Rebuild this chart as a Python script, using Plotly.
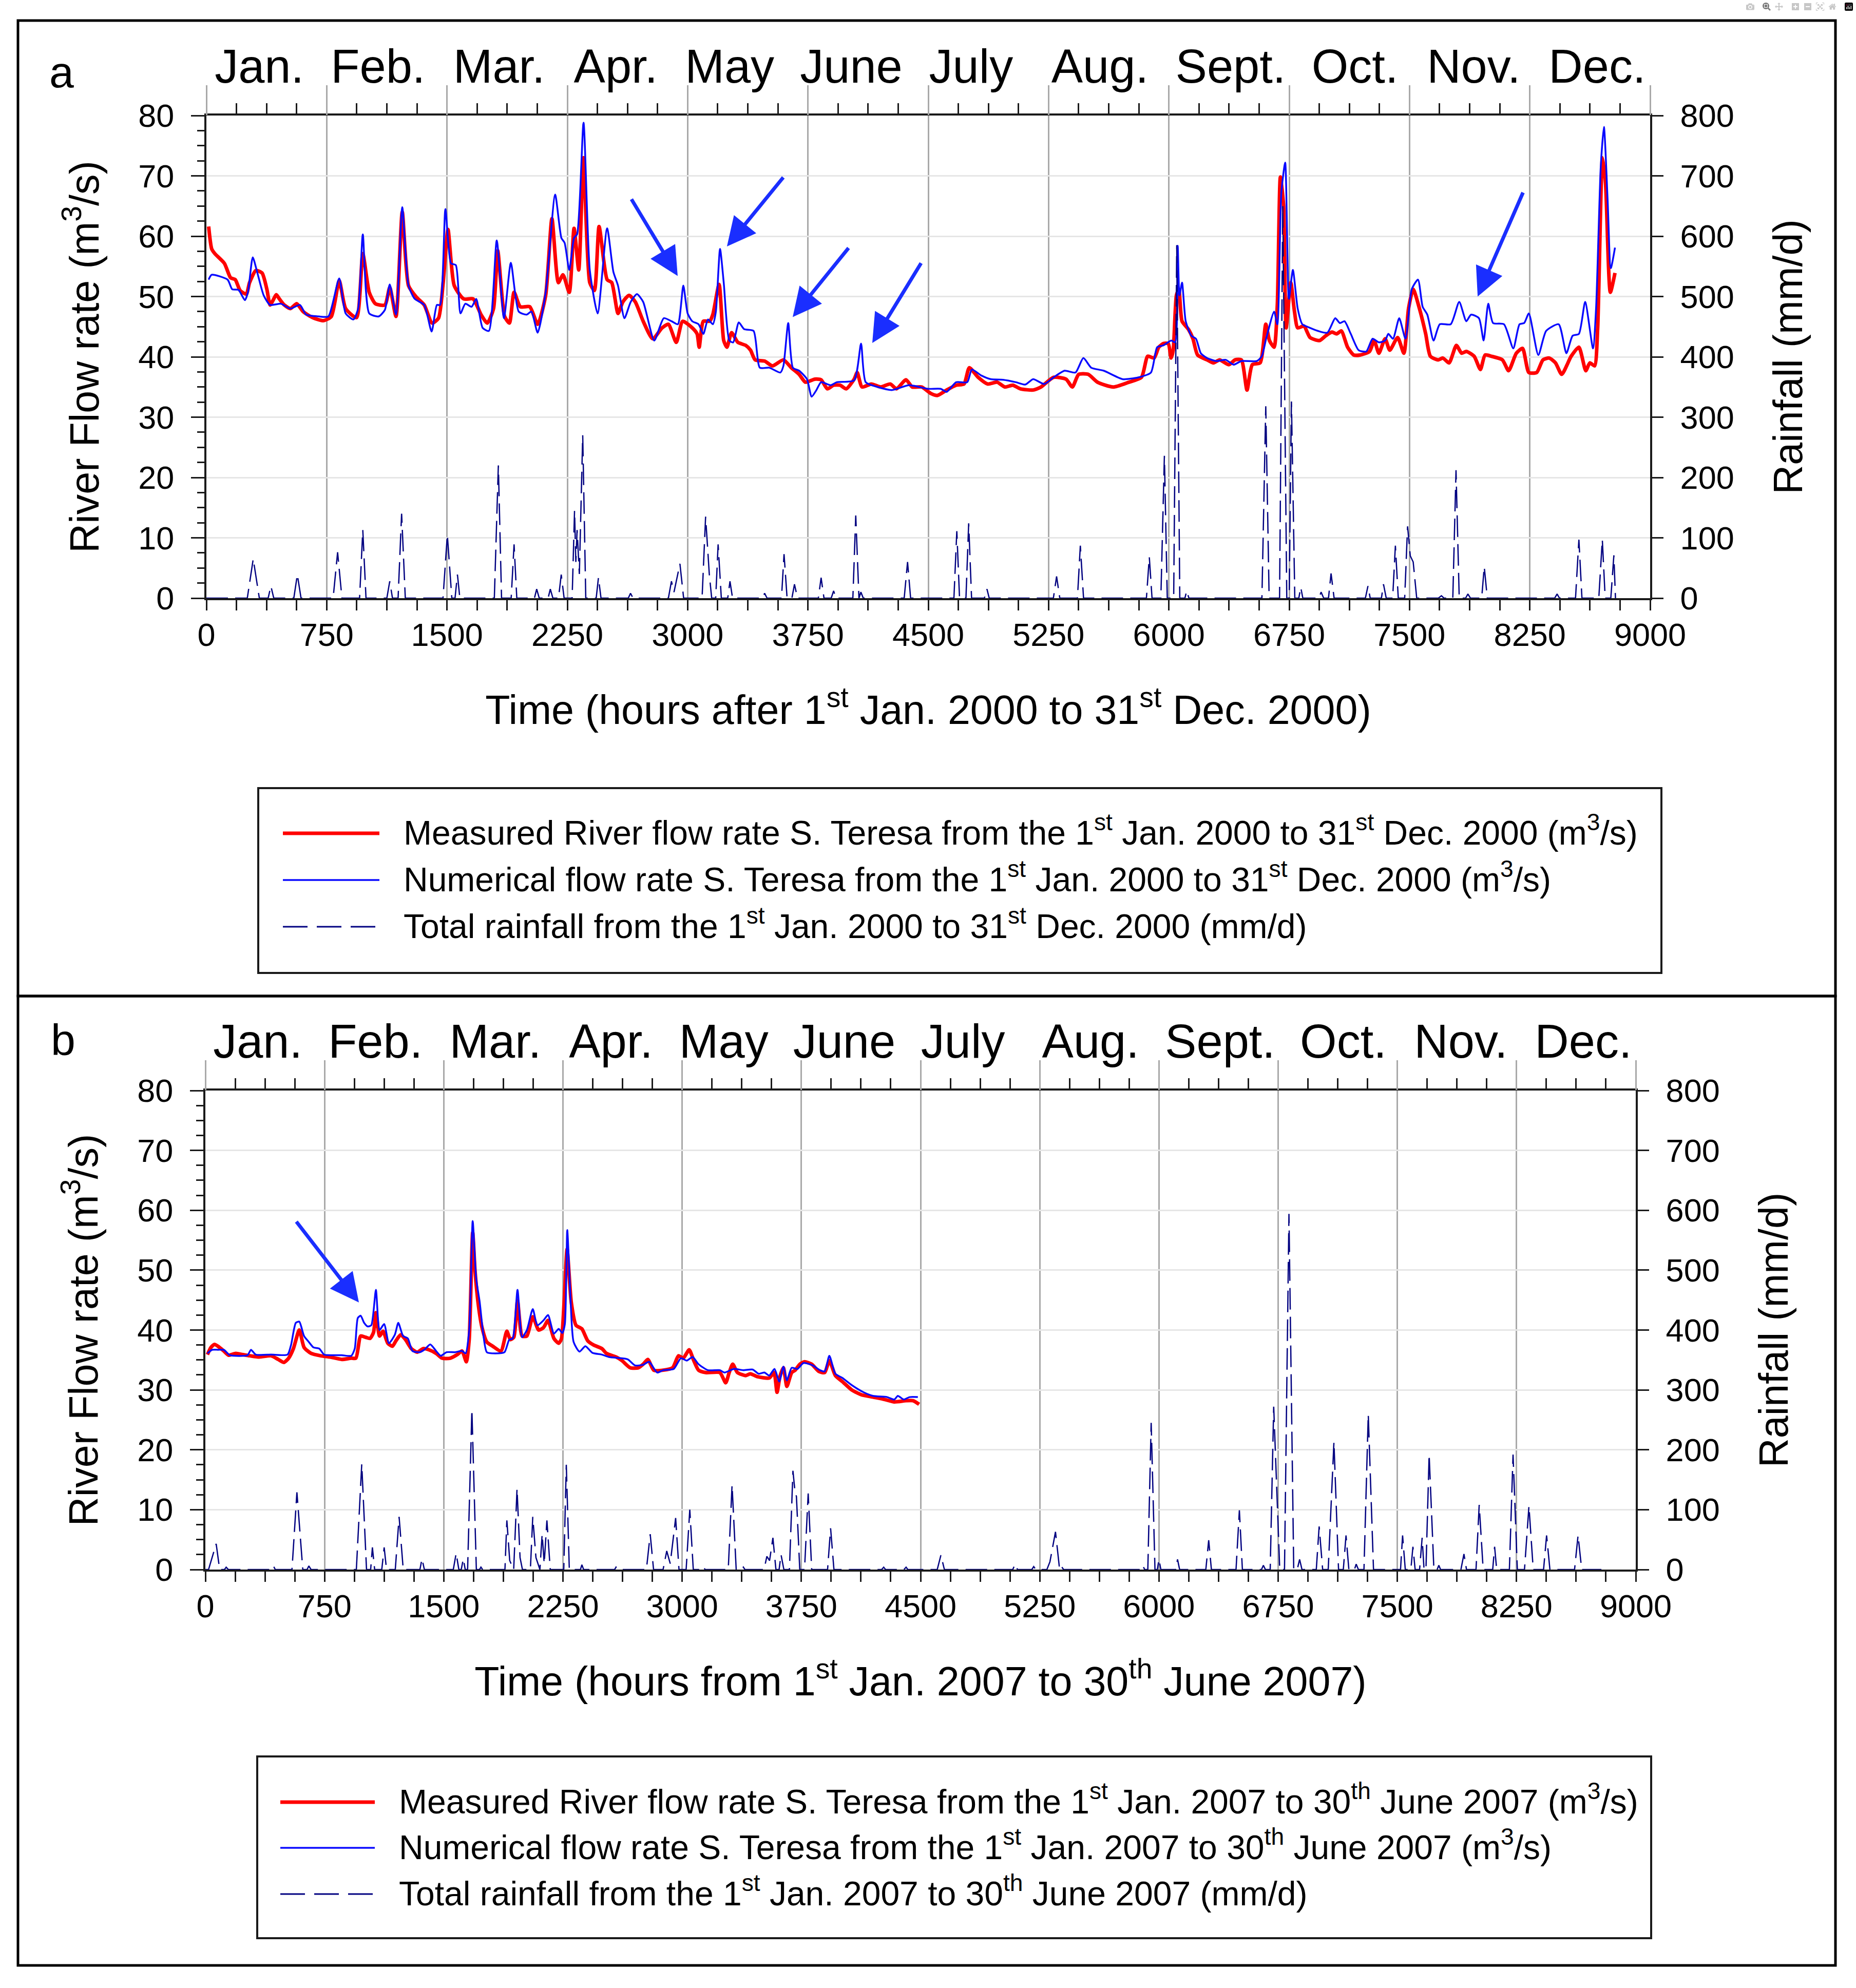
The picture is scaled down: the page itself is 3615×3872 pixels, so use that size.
import plotly.graph_objects as go

# ---------------------------------------------------------------- data ----
months = ["Jan.", "Feb.", "Mar.", "Apr.", "May", "June",
          "July", "Aug.", "Sept.", "Oct.", "Nov.", "Dec."]
month_label_hours = [330, 1070, 1825, 2552, 3262, 4020,
                     4767, 5570, 6385, 7160, 7900, 8670]

# Panel a : year 2000
hours_meas_2000 = [
    14, 33, 53, 112, 151, 180, 210, 249, 269, 308,
    347, 377, 397, 416, 436, 455, 485, 524, 563, 603,
    662, 730, 779, 828, 868, 936, 975, 1015, 1054, 1113,
    1143, 1182, 1221, 1260, 1309, 1358, 1407, 1447, 1476, 1506,
    1545, 1604, 1663, 1712, 1751, 1790, 1816, 1859, 1889, 1918,
    1957, 2016, 2065, 2115, 2154, 2194, 2223, 2262, 2292, 2321,
    2351, 2390, 2419, 2448, 2498, 2527, 2566, 2596, 2635, 2674,
    2723, 2782, 2841, 2880, 2929, 2969, 3029, 3059, 3072, 3098,
    3137, 3157, 3196, 3225, 3245, 3274, 3313, 3362, 3392, 3421,
    3480, 3529, 3597, 3646, 3695, 3734, 3793, 3832, 3871, 3910,
    3950, 3989, 4038, 4057, 4087, 4145, 4204, 4263, 4302, 4361,
    4400, 4459, 4518, 4557, 4615, 4674, 4723, 4756, 4811, 4870,
    4929, 4978, 5027, 5075, 5154, 5203, 5281, 5359, 5398, 5438,
    5497, 5555, 5653, 5751, 5829, 5868, 5908, 5937, 5966, 5996,
    6014, 6027, 6047, 6062, 6082, 6121, 6150, 6179, 6238, 6277,
    6316, 6374, 6413, 6452, 6487, 6520, 6569, 6604, 6627, 6656,
    6676, 6695, 6715, 6731, 6760, 6783, 6803, 6842, 6880, 6939,
    6978, 7017, 7046, 7075, 7114, 7153, 7192, 7251, 7280, 7309,
    7348, 7377, 7426, 7465, 7494, 7523, 7562, 7601, 7630, 7679,
    7708, 7747, 7792, 7825, 7854, 7903, 7942, 7971, 8010, 8079,
    8118, 8166, 8205, 8244, 8293, 8332, 8371, 8410, 8449, 8508,
    8556, 8599, 8624, 8654, 8673, 8703, 8722, 8752, 8781]
flow_meas_2000 = [
    61.6, 57.9, 57.1, 55.5, 53.1, 52.8, 51.0, 50.4, 52.3, 54.3,
    53.9, 51.2, 48.6, 49.4, 50.3, 49.6, 48.6, 48.0, 48.8, 47.5,
    46.5, 46.0, 46.7, 52.6, 48.0, 46.5, 57.1, 50.7, 48.8, 48.6,
    51.5, 46.7, 64.0, 51.8, 49.9, 48.6, 45.6, 46.4, 52.3, 61.1,
    51.8, 49.6, 49.6, 47.0, 45.6, 48.0, 57.6, 46.7, 45.6, 50.7,
    48.3, 48.3, 45.4, 50.2, 62.9, 52.3, 53.6, 50.7, 61.3, 54.4,
    73.0, 52.3, 51.0, 61.6, 52.8, 52.3, 47.2, 49.1, 50.2, 49.1,
    45.9, 43.0, 44.8, 45.4, 42.4, 45.9, 44.8, 43.8, 41.6, 45.9,
    45.9, 47.0, 52.0, 42.7, 41.6, 44.0, 42.4, 41.9, 41.1, 39.5,
    39.3, 38.5, 39.5, 38.2, 37.1, 35.8, 36.3, 36.2, 34.7, 35.3,
    35.3, 34.7, 36.3, 37.4, 35.0, 35.5, 35.0, 35.5, 34.7, 36.2,
    35.0, 35.0, 33.9, 33.6, 34.5, 35.3, 35.5, 38.2, 36.6, 35.5,
    35.8, 35.0, 35.3, 34.7, 34.5, 35.0, 36.6, 36.3, 35.0, 37.1,
    37.1, 35.8, 35.0, 35.8, 36.6, 40.1, 39.8, 41.6, 42.2, 42.2,
    39.8, 41.1, 50.2, 51.2, 45.9, 44.6, 43.0, 40.3, 39.5, 39.0,
    39.5, 38.7, 39.5, 39.5, 34.5, 38.7, 39.0, 45.4, 42.7, 41.6,
    48.6, 69.8, 65.1, 44.8, 52.3, 47.5, 44.8, 45.1, 43.2, 42.7,
    43.5, 44.1, 43.8, 44.3, 41.6, 40.3, 40.3, 40.9, 42.7, 40.6,
    43.0, 41.1, 43.2, 40.6, 48.0, 51.2, 48.0, 43.8, 40.1, 39.5,
    39.8, 39.0, 41.9, 40.6, 40.9, 40.1, 37.9, 40.3, 40.1, 39.5,
    37.7, 40.6, 41.4, 37.4, 37.4, 39.5, 39.8, 39.0, 37.1, 40.1,
    41.6, 37.7, 39.0, 38.5, 44.8, 73.0, 68.8, 50.7, 53.9]

hours_num_2000 = [
    14, 33, 132, 161, 200, 240, 259, 289, 318, 357,
    397, 465, 524, 583, 622, 701, 760, 828, 868, 917,
    946, 975, 1015, 1074, 1113, 1143, 1182, 1221, 1260, 1299,
    1358, 1404, 1437, 1457, 1490, 1525, 1555, 1584, 1614, 1653,
    1682, 1722, 1761, 1810, 1855, 1898, 1947, 1996, 2026, 2065,
    2115, 2174, 2213, 2233, 2262, 2292, 2311, 2351, 2390, 2439,
    2498, 2537, 2566, 2606, 2645, 2684, 2723, 2792, 2851, 2900,
    2939, 2973, 3000, 3029, 3068, 3098, 3127, 3157, 3176, 3202,
    3225, 3260, 3284, 3319, 3352, 3411, 3450, 3509, 3578, 3597,
    3627, 3656, 3695, 3744, 3773, 3803, 3832, 3891, 3930, 4038,
    4081, 4110, 4185, 4273, 4380, 4498, 4577, 4615, 4674, 4743,
    4772, 4831, 4890, 4968, 5046, 5105, 5154, 5223, 5281, 5350,
    5418, 5467, 5516, 5594, 5712, 5810, 5888, 5927, 5966, 6015,
    6039, 6055, 6066, 6082, 6105, 6140, 6169, 6199, 6238, 6296,
    6355, 6403, 6452, 6549, 6579, 6608, 6656, 6676, 6701, 6725,
    6748, 6773, 6803, 6832, 6880, 6929, 6988, 7037, 7066, 7095,
    7134, 7183, 7231, 7270, 7309, 7348, 7368, 7397, 7436, 7475,
    7514, 7553, 7582, 7611, 7650, 7689, 7757, 7810, 7854, 7884,
    7933, 7962, 7991, 8021, 8089, 8147, 8186, 8215, 8244, 8303,
    8352, 8430, 8478, 8517, 8556, 8595, 8644, 8663, 8692, 8712,
    8735, 8755, 8781]
flow_num_2000 = [
    52.8, 53.6, 52.8, 51.2, 51.1, 49.4, 50.7, 56.5, 53.9, 50.2,
    48.6, 48.8, 48.0, 48.6, 47.0, 46.7, 46.7, 53.0, 47.2, 46.2,
    48.0, 60.3, 47.2, 46.7, 47.8, 52.0, 47.0, 64.8, 51.8, 49.6,
    48.6, 44.2, 48.6, 48.6, 64.5, 55.5, 55.2, 47.2, 48.8, 48.3,
    49.6, 44.8, 44.3, 59.3, 46.4, 55.6, 47.5, 47.0, 47.5, 44.0,
    50.7, 66.9, 59.7, 58.9, 54.4, 59.7, 60.3, 78.8, 54.4, 47.2,
    61.3, 54.1, 51.8, 46.4, 49.1, 50.4, 49.1, 42.7, 46.4, 45.9,
    45.4, 51.8, 47.2, 45.9, 45.4, 43.8, 46.2, 45.4, 47.5, 57.9,
    52.3, 42.7, 42.4, 45.7, 44.6, 44.3, 38.2, 38.2, 37.4, 38.5,
    45.6, 38.2, 37.7, 36.3, 33.4, 34.5, 35.8, 35.3, 35.8, 36.1,
    42.2, 35.8, 35.0, 34.5, 35.3, 34.7, 34.7, 34.2, 35.8, 35.8,
    37.9, 36.9, 36.3, 36.2, 35.8, 35.4, 36.3, 35.5, 36.6, 37.7,
    37.4, 39.8, 38.2, 37.7, 36.3, 36.6, 37.4, 41.6, 41.9, 42.7,
    42.4, 58.4, 50.2, 52.3, 45.9, 43.5, 43.0, 40.6, 39.8, 39.3,
    39.5, 38.7, 39.3, 39.3, 40.1, 43.2, 47.5, 45.4, 67.2, 72.2,
    49.6, 54.4, 48.0, 45.4, 44.8, 44.3, 44.0, 46.4, 45.6, 45.9,
    43.8, 41.1, 40.9, 43.0, 42.4, 42.7, 43.8, 43.0, 46.4, 43.0,
    51.2, 52.8, 48.3, 47.0, 42.7, 45.4, 45.4, 49.1, 45.9, 47.0,
    46.4, 42.7, 48.8, 45.6, 45.4, 41.4, 45.4, 45.6, 47.2, 40.3,
    44.3, 45.4, 40.6, 43.5, 43.8, 49.1, 41.4, 48.0, 71.4, 78.1,
    66.1, 54.7, 58.1]

hours_rain_2000 = [
    0, 255, 292, 330, 385, 402, 420, 545, 567, 590,
    790, 818, 845, 955, 975, 995, 1125, 1143, 1160, 1195,
    1217, 1240, 1475, 1502, 1530, 1550, 1565, 1580, 1795, 1820,
    1840, 1900, 1918, 1935, 2045, 2059, 2075, 2130, 2144, 2160,
    2195, 2212, 2230, 2280, 2295, 2303, 2311, 2325, 2346, 2365,
    2430, 2444, 2460, 2630, 2644, 2660, 2880, 2899, 2915, 2952,
    2975, 3090, 3112, 3135, 3150, 3175, 3190, 3210, 3250, 3264,
    3280, 3465, 3480, 3495, 3585, 3601, 3620, 3650, 3666, 3685,
    3815, 3832, 3850, 3895, 3910, 3925, 4030, 4048, 4068, 4080,
    4095, 4350, 4371, 4390, 4660, 4678, 4695, 4735, 4752, 4770,
    4850, 4866, 4880, 5280, 5300, 5320, 5430, 5448, 5468, 5860,
    5878, 5895, 5950, 5972, 5990, 6030, 6049, 6068, 6100, 6111,
    6125, 6580, 6604, 6625, 6690, 6710, 6735, 6750, 6764, 6785,
    6810, 6822, 6835, 6935, 6949, 6965, 6995, 7011, 7030, 7225,
    7241, 7255, 7325, 7338, 7355, 7395, 7412, 7430, 7470, 7488,
    7505, 7523, 7545, 7680, 7699, 7715, 7770, 7790, 7810, 7850,
    7864, 7880, 7950, 7966, 7985, 8405, 8420, 8435, 8535, 8556,
    8575, 8680, 8702, 8720, 8755, 8774, 8784]
rain_2000 = [
    0, 0, 65, 0, 0, 20, 0, 0, 39, 0,
    0, 76, 0, 0, 113, 0, 0, 28, 0, 0,
    140, 0, 0, 105, 0, 0, 39, 0, 0, 220,
    0, 0, 89, 0, 0, 15, 0, 0, 15, 0,
    0, 39, 0, 0, 145, 60, 113, 40, 270, 0,
    0, 34, 0, 0, 8, 0, 0, 28, 10, 57,
    0, 0, 135, 40, 0, 0, 89, 0, 0, 28,
    0, 0, 8, 0, 0, 73, 0, 0, 23, 0,
    0, 34, 0, 0, 12, 0, 0, 137, 0, 10,
    0, 0, 60, 0, 0, 111, 0, 0, 124, 0,
    0, 15, 0, 0, 36, 0, 0, 87, 0, 0,
    68, 0, 0, 236, 0, 0, 585, 0, 0, 12,
    0, 0, 318, 0, 0, 650, 0, 0, 326, 0,
    0, 18, 0, 0, 10, 0, 0, 41, 0, 0,
    20, 0, 0, 23, 0, 0, 87, 0, 0, 119,
    70, 60, 0, 0, 4, 0, 0, 212, 0, 0,
    7, 0, 0, 52, 0, 0, 7, 0, 0, 97,
    0, 0, 97, 0, 0, 71, 0]

# Panel b : 1st Jan. - 30th June 2007 (rainfall for the whole year)
hours_meas_2007 = [
    13, 35, 57, 79, 116, 146, 191, 235, 280, 339,
    413, 458, 495, 524, 554, 591, 621, 665, 725, 784,
    858, 918, 947, 977, 1007, 1036, 1058, 1073, 1096, 1118,
    1148, 1177, 1199, 1229, 1259, 1296, 1333, 1370, 1407, 1452,
    1489, 1541, 1585, 1615, 1642, 1660, 1682, 1697, 1719, 1741,
    1771, 1808, 1860, 1897, 1919, 1941, 1964, 1993, 2023, 2060,
    2097, 2127, 2156, 2193, 2223, 2240, 2258, 2276, 2302, 2332,
    2369, 2406, 2443, 2495, 2524, 2584, 2621, 2673, 2725, 2755,
    2784, 2821, 2881, 2940, 2977, 3007, 3044, 3073, 3103, 3148,
    3237, 3274, 3296, 3318, 3348, 3400, 3429, 3474, 3548, 3578,
    3597, 3615, 3637, 3659, 3689, 3711, 3741, 3770, 3815, 3859,
    3897, 3926, 3964, 4008, 4067, 4127, 4201, 4275, 4335, 4409,
    4453, 4491]
flow_meas_2007 = [
    35.9, 37.1, 37.6, 37.3, 36.5, 35.8, 36.1, 35.9, 35.7, 35.5,
    35.7, 35.1, 34.6, 35.3, 36.9, 40.0, 37.1, 36.1, 35.7, 35.5,
    35.1, 35.3, 35.3, 39.0, 38.8, 38.6, 39.6, 42.9, 39.0, 39.8,
    37.8, 37.3, 38.2, 39.2, 38.4, 36.9, 36.3, 36.9, 36.7, 36.1,
    35.3, 35.3, 35.9, 36.5, 34.7, 38.4, 56.3, 49.8, 43.9, 40.4,
    38.0, 37.3, 36.5, 39.8, 38.4, 38.8, 44.9, 39.0, 39.0, 42.2,
    40.0, 40.4, 41.6, 38.6, 37.8, 38.5, 45.0, 53.5, 44.7, 40.8,
    40.2, 38.2, 37.5, 36.9, 36.1, 35.5, 34.9, 33.7, 33.7, 34.3,
    35.1, 33.3, 33.3, 33.7, 35.7, 35.3, 36.7, 34.9, 33.3, 32.9,
    32.9, 31.2, 32.9, 34.3, 32.9, 32.4, 32.7, 32.2, 32.0, 32.9,
    29.6, 32.2, 33.7, 30.6, 32.9, 33.3, 34.3, 34.7, 34.3, 33.1,
    32.9, 34.9, 32.4, 31.4, 30.0, 29.2, 28.8, 28.4, 28.0, 28.2,
    28.2, 27.6]

hours_num_2007 = [
    13, 42, 79, 116, 154, 265, 287, 317, 413, 517,
    539, 569, 591, 621, 651, 680, 717, 747, 799, 858,
    918, 940, 959, 977, 999, 1021, 1044, 1073, 1096, 1125,
    1155, 1192, 1214, 1244, 1274, 1303, 1348, 1377, 1415, 1452,
    1481, 1518, 1570, 1615, 1637, 1660, 1682, 1704, 1726, 1749,
    1771, 1823, 1882, 1912, 1934, 1964, 1993, 2023, 2060, 2089,
    2127, 2156, 2193, 2223, 2246, 2262, 2277, 2295, 2317, 2354,
    2391, 2435, 2495, 2539, 2613, 2658, 2703, 2755, 2792, 2843,
    2881, 2947, 2992, 3029, 3066, 3103, 3162, 3237, 3266, 3326,
    3385, 3444, 3481, 3518, 3548, 3581, 3611, 3637, 3659, 3689,
    3726, 3763, 3822, 3867, 3897, 3926, 3964, 4008, 4067, 4142,
    4201, 4290, 4335, 4357, 4394, 4431, 4483]
flow_num_2007 = [
    36.1, 36.7, 36.7, 36.7, 35.8, 35.8, 36.7, 35.9, 35.9, 35.9,
    37.5, 41.2, 41.4, 39.0, 38.0, 37.1, 36.9, 35.9, 35.8, 35.8,
    35.7, 36.9, 42.0, 42.4, 41.2, 40.6, 40.8, 46.7, 40.0, 41.0,
    37.8, 39.2, 41.2, 39.0, 38.6, 36.5, 36.3, 36.7, 37.6, 36.5,
    35.7, 36.3, 36.3, 36.5, 36.1, 40.0, 58.2, 48.6, 44.7, 39.2,
    36.3, 36.1, 36.3, 38.4, 38.6, 46.7, 38.8, 40.0, 43.5, 40.8,
    41.6, 42.5, 39.4, 40.2, 39.5, 41.0, 56.7, 46.7, 38.0, 36.4,
    37.3, 36.2, 35.9, 35.5, 35.3, 35.1, 34.1, 34.2, 34.7, 32.9,
    33.3, 33.5, 35.3, 34.9, 35.5, 34.3, 33.3, 33.3, 32.9, 33.5,
    33.3, 33.4, 32.7, 32.9, 32.4, 33.5, 31.4, 33.9, 31.6, 33.7,
    33.5, 34.5, 34.1, 33.3, 33.1, 35.7, 32.7, 32.0, 30.8, 29.6,
    29.0, 28.8, 28.4, 29.0, 28.4, 28.8, 28.8]

hours_rain_2007 = [
    0, 20, 68, 90, 120, 131, 145, 415, 428, 440,
    545, 576, 613, 640, 651, 665, 950, 984, 1014, 1040,
    1051, 1065, 1110, 1125, 1140, 1195, 1219, 1245, 1350, 1363,
    1378, 1560, 1578, 1595, 1610, 1623, 1635, 1650, 1677, 1705,
    1725, 1734, 1745, 1885, 1897, 1915, 1940, 1961, 1980, 1995,
    2045, 2060, 2080, 2105, 2119, 2132, 2149, 2170, 2255, 2271,
    2290, 2360, 2369, 2380, 2575, 2584, 2595, 2775, 2799, 2820,
    2880, 2903, 2925, 2959, 2980, 3025, 3048, 3070, 3125, 3133,
    3145, 3290, 3314, 3340, 3375, 3385, 3395, 3515, 3533, 3550,
    3571, 3590, 3610, 3622, 3640, 3675, 3697, 3710, 3719, 3740,
    3770, 3793, 3815, 3915, 3934, 3955, 4255, 4268, 4280, 4395,
    4409, 4420, 4605, 4628, 4650, 5080, 5095, 5110, 5200, 5212,
    5225, 5295, 5314, 5349, 5375, 5387, 5400, 5880, 5898, 5910,
    5930, 5951, 5975, 5990, 6000, 6012, 6105, 6117, 6130, 6295,
    6313, 6330, 6485, 6506, 6525, 6645, 6657, 6670, 6700, 6722,
    6760, 6790, 6818, 6848, 6870, 6885, 6900, 6990, 7008, 7030,
    7065, 7101, 7130, 7160, 7177, 7195, 7230, 7241, 7255, 7290,
    7317, 7350, 7520, 7533, 7550, 7585, 7598, 7612, 7640, 7656,
    7668, 7680, 7700, 7730, 7750, 7761, 7772, 7900, 7919, 7935,
    7995, 8015, 8040, 8100, 8112, 8125, 8205, 8228, 8255, 8300,
    8328, 8355, 8420, 8439, 8460, 8615, 8637, 8660, 8784]
rain_2007 = [
    0, 0, 43, 0, 0, 4, 0, 0, 6, 0,
    0, 129, 0, 0, 6, 0, 0, 176, 0, 0,
    37, 0, 0, 37, 0, 0, 88, 0, 0, 18,
    0, 0, 27, 0, 0, 18, 0, 0, 267, 0,
    0, 4, 0, 0, 82, 15, 0, 135, 20, 0,
    0, 88, 20, 0, 59, 10, 82, 0, 0, 175,
    0, 0, 8, 0, 0, 4, 0, 0, 59, 0,
    0, 31, 10, 86, 0, 0, 100, 0, 0, 4,
    0, 0, 141, 0, 0, 4, 0, 0, 22, 15,
    53, 0, 0, 25, 0, 0, 165, 130, 122, 0,
    0, 127, 0, 0, 69, 0, 0, 4, 0, 0,
    4, 0, 0, 24, 0, 0, 9, 0, 0, 5,
    0, 0, 13, 63, 0, 5, 0, 0, 7, 0,
    0, 245, 0, 0, 17, 0, 0, 17, 0, 0,
    49, 0, 0, 99, 0, 0, 7, 0, 0, 272,
    0, 0, 594, 0, 0, 17, 0, 0, 72, 0,
    0, 213, 0, 0, 57, 0, 0, 9, 0, 0,
    259, 0, 0, 57, 0, 0, 38, 0, 0, 53,
    0, 0, 192, 0, 0, 7, 0, 0, 26, 0,
    0, 108, 0, 0, 38, 0, 0, 192, 0, 0,
    106, 0, 0, 57, 0, 0, 57, 0, 0]

# arrows: (hour, flow) of the tip, pixel offset of the tail
arrows_2000 = [(2938, 53.4, -91, -151), (3245, 58.3, 111, -136),
               (3655, 46.6, 110, -136), (4151, 42.3, 96, -157),
               (7925, 50.0, 89, -204)]
arrows_2007 = [(966, 44.6, -123, -159)]

for a, b in [(hours_meas_2000, flow_meas_2000), (hours_num_2000, flow_num_2000),
             (hours_rain_2000, rain_2000), (hours_meas_2007, flow_meas_2007),
             (hours_num_2007, flow_num_2007), (hours_rain_2007, rain_2007)]:
    assert len(a) == len(b), (len(a), len(b))

# --------------------------------------------------------------- style ----
W, H = 3615, 3872
FONT = "Liberation Sans, Arial, sans-serif"
INK = "#1a1a1a"
RED = "#ff0000"
BLUE = "#0a0aff"
NAVY = "#000080"
ARROW = "#1a2eff"
VGRID = "#a9a9a9"
HGRID = "#e6e6e6"
RAIN_DASH = "42px,14px"


def fx(p):
    return p / W


def fy(p):
    return 1 - p / H


panels = [
    dict(box=(402, 3214, 225, 1165), ax=["x", "y", "y2", "x2", "x3"],
         meas=(hours_meas_2000, flow_meas_2000), num=(hours_num_2000, flow_num_2000),
         rain=(hours_rain_2000, rain_2000), arrows=arrows_2000,
         letter="a", letter_pos=(120, 140),
         xtitle="Time (hours after 1<sup>st</sup> Jan. 2000 to 31<sup>st</sup> Dec. 2000)",
         period="1<sup>st</sup> Jan. 2000 to 31<sup>st</sup> Dec. 2000",
         frame=(35, 3575, 40, 1940),
         legend_box=(503, 3236, 1535, 1895), legend_sample=(551, 739),
         legend_rows=(1623, 1714, 1805), legend_text_x=784),
    dict(box=(400, 3186, 2124, 3057), ax=["x4", "y3", "y4", "x5", "x6"],
         meas=(hours_meas_2007, flow_meas_2007), num=(hours_num_2007, flow_num_2007),
         rain=(hours_rain_2007, rain_2007), arrows=arrows_2007,
         letter="b", letter_pos=(123, 2025),
         xtitle="Time (hours from 1<sup>st</sup> Jan. 2007 to 30<sup>th</sup> June 2007)",
         period="1<sup>st</sup> Jan. 2007 to 30<sup>th</sup> June 2007",
         frame=(35, 3575, 1940, 3828),
         legend_box=(501, 3216, 3421, 3775), legend_sample=(546, 730),
         legend_rows=(3510, 3599, 3689), legend_text_x=775),
]

fig = go.Figure()
layout = dict(width=W, height=H,
              margin=dict(l=0, r=0, t=0, b=0, pad=0, autoexpand=False),
              paper_bgcolor="white", plot_bgcolor="white", showlegend=False,
              font=dict(family=FONT, color="#000"))
shapes, annotations = [], []

tickfont = dict(size=63, family=FONT, color="#000")
titlefont = dict(size=79, family=FONT, color="#000")

for p in panels:
    L, R, T, B = p["box"]
    xa, ya, ya2, xm, xg = p["ax"]
    xdom = [fx(L), fx(R)]
    ydom = [fy(B), fy(T)]
    key = lambda a: a[0] + "axis" + a[1:]

    layout[key(xa)] = dict(
        domain=xdom, anchor=ya, range=[0, 9000], tick0=0, dtick=750,
        ticks="outside", ticklen=20, tickwidth=3, tickcolor=INK,
        minor=dict(tick0=0, dtick=187.5, ticks="outside", ticklen=20, tickwidth=3,
                   tickcolor=INK, showgrid=False),
        showgrid=True, gridcolor=VGRID, gridwidth=2.5,
        showline=True, linecolor=INK, linewidth=4, mirror="ticks", zeroline=False,
        tickfont=tickfont, ticklabelstandoff=-7, automargin=False,
        title=dict(text=p["xtitle"], font=titlefont, standoff=86))
    # month names above the plot
    layout[key(xm)] = dict(
        overlaying=xa, anchor=ya, side="top", range=[0, 9000],
        tickmode="array", tickvals=month_label_hours, ticktext=months,
        ticks="", showgrid=False, showline=False, zeroline=False, automargin=False,
        tickfont=dict(size=92, family=FONT, color="#000"), ticklabelstandoff=45)
    # grey separators between month names
    layout[key(xg)] = dict(
        overlaying=xa, anchor=ya, side="top", range=[0, 9000], tick0=0, dtick=750,
        ticks="outside", ticklen=58, tickwidth=2.5, tickcolor=VGRID, automargin=False,
        showticklabels=False, showgrid=False, showline=False, zeroline=False)
    layout[key(ya)] = dict(
        domain=ydom, anchor=xa, range=[0, 80], tick0=0, dtick=10,
        ticks="outside", ticklen=26, tickwidth=3, tickcolor=INK,
        minor=dict(tick0=0, dtick=2.5, ticks="outside", ticklen=14, tickwidth=3,
                   tickcolor=INK, showgrid=False),
        showgrid=True, gridcolor=HGRID, gridwidth=2.5,
        showline=True, linecolor=INK, linewidth=4, zeroline=False,
        tickfont=tickfont, ticklabelstandoff=20, automargin=False,
        title=dict(text="River Flow rate (m<sup>3</sup>/s)", font=titlefont, standoff=52))
    layout[key(ya2)] = dict(
        overlaying=ya, anchor=xa, side="right", range=[0, 800], tick0=0, dtick=100,
        ticks="outside", ticklen=22, tickwidth=3, tickcolor=INK, automargin=False,
        showgrid=False, showline=True, linecolor=INK, linewidth=4, zeroline=False,
        tickfont=tickfont, ticklabelstandoff=20,
        title=dict(text="Rainfall (mm/d)", font=titlefont, standoff=79))

    # empty traces so that the two decorative top axes are drawn
    for extra in (xm, xg):
        fig.add_trace(go.Scatter(x=[None], y=[None], xaxis=extra, yaxis=ya,
                                 mode="lines", hoverinfo="skip", showlegend=False))

    fig.add_trace(go.Scatter(
        x=p["rain"][0], y=p["rain"][1], xaxis=xa, yaxis=ya2, mode="lines",
        line=dict(color=NAVY, width=2.5, dash=RAIN_DASH),
        name="Total rainfall (mm/d)"))
    fig.add_trace(go.Scatter(
        x=p["meas"][0], y=p["meas"][1], xaxis=xa, yaxis=ya, mode="lines",
        line=dict(color=RED, width=7, shape="spline", smoothing=0.6),
        name="Measured River flow rate S. Teresa (m3/s)"))
    fig.add_trace(go.Scatter(
        x=p["num"][0], y=p["num"][1], xaxis=xa, yaxis=ya, mode="lines",
        line=dict(color=BLUE, width=3.5, shape="spline", smoothing=0.6),
        name="Numerical flow rate S. Teresa (m3/s)"))

    for (hx, hy, dx, dy) in p["arrows"]:
        annotations.append(dict(
            x=hx, y=hy, xref=xa, yref=ya, ax=dx, ay=dy, axref="pixel", ayref="pixel",
            text="", showarrow=True, arrowhead=2, arrowsize=1.6, arrowwidth=7,
            arrowcolor=ARROW, standoff=0))

    lx, ly = p["letter_pos"]
    annotations.append(dict(x=fx(lx), y=fy(ly), xref="paper", yref="paper",
                            text=p["letter"], showarrow=False, xanchor="center",
                            yanchor="middle", font=dict(size=86, family=FONT, color="#000")))

    f0, f1, f2, f3 = p["frame"]
    shapes.append(dict(type="rect", xref="paper", yref="paper", x0=fx(f0), x1=fx(f1),
                       y0=fy(f3), y1=fy(f2), line=dict(color="#000", width=5)))

    b0, b1, b2, b3 = p["legend_box"]
    shapes.append(dict(type="rect", xref="paper", yref="paper", x0=fx(b0), x1=fx(b1),
                       y0=fy(b3), y1=fy(b2), line=dict(color=INK, width=4)))
    s0, s1 = p["legend_sample"]
    entries = [
        (dict(color=RED, width=7), "Measured River flow rate S. Teresa from the "
         + p["period"] + " (m<sup>3</sup>/s)"),
        (dict(color=BLUE, width=3.5), "Numerical flow rate S. Teresa from the "
         + p["period"] + " (m<sup>3</sup>/s)"),
        (dict(color=NAVY, width=3, dash="48px,18px"), "Total rainfall from the "
         + p["period"] + " (mm/d)"),
    ]
    for (ln, txt), row in zip(entries, p["legend_rows"]):
        shapes.append(dict(type="line", xref="paper", yref="paper", x0=fx(s0), x1=fx(s1),
                           y0=fy(row), y1=fy(row), line=ln))
        annotations.append(dict(x=fx(p["legend_text_x"]), y=fy(row - 6), xref="paper",
                                yref="paper", text=txt, showarrow=False, xanchor="left",
                                yanchor="middle", font=dict(size=66, family=FONT, color="#000")))

layout["shapes"] = shapes
layout["annotations"] = annotations
fig.update_layout(**layout)

fig.write_html("out.html", post_script="document.body.style.margin='0';")
